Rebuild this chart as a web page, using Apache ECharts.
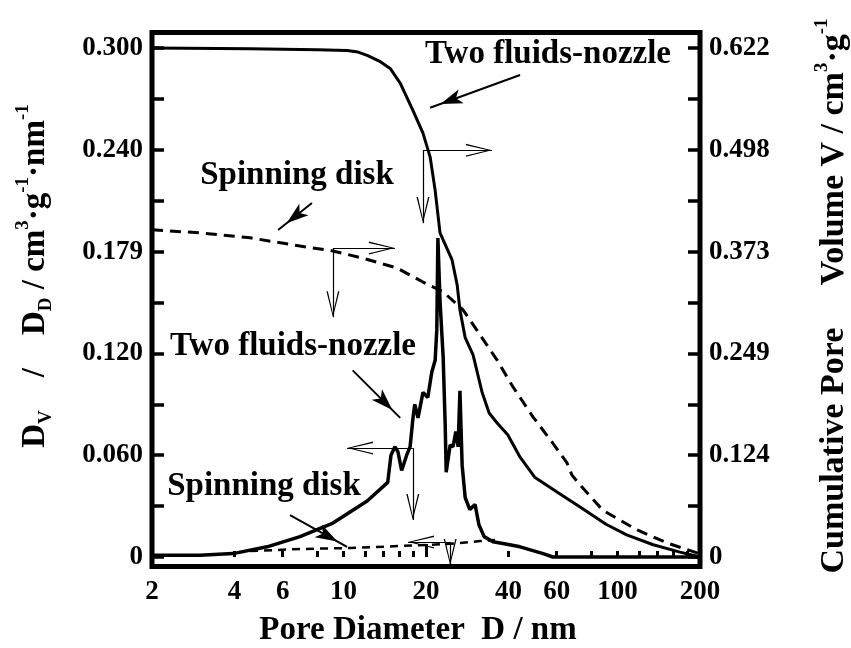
<!DOCTYPE html>
<html>
<head>
<meta charset="utf-8">
<script src="https://cdn.jsdelivr.net/npm/echarts@6/dist/echarts.min.js"></script>
<style>
  html, body { margin: 0; padding: 0; background: #fff; }
  #chart { width: 851px; height: 648px; }
</style>
</head>
<body>
<div id="chart"></div>
<script>
// pore diameter (nm) and cumulative pore volume (cm3/g), right axis
var nozzleCumD = [2, 4.56, 8.0, 10.3, 11.3, 12.2, 13.5, 14.8, 16.1, 17.9, 19.5, 20.7, 21.6, 22.5, 24.9, 26.0, 26.6, 27.8, 29.7, 32.0, 34.0, 36.3, 39.8, 44.1, 50.0, 61.7, 73.0, 90.8, 108, 135, 169, 195, 200];
var nozzleCumV = [0.622, 0.621, 0.620, 0.619, 0.617, 0.613, 0.606, 0.597, 0.579, 0.546, 0.518, 0.489, 0.448, 0.396, 0.363, 0.332, 0.302, 0.268, 0.247, 0.202, 0.176, 0.164, 0.149, 0.122, 0.097, 0.077, 0.061, 0.040, 0.027, 0.015, 0.006, 0.001, 0.000];

var diskCumD = [2, 2.99, 4.56, 6.94, 9.15, 11.8, 15.7, 19.5, 23.1, 27.3, 30.7, 34.3, 36.3, 41.5, 49.2, 58.1, 65.4, 68.2, 73.0, 88.5, 118, 152, 195, 200];
var diskCumV = [0.400, 0.396, 0.390, 0.380, 0.374, 0.365, 0.353, 0.336, 0.324, 0.302, 0.277, 0.253, 0.241, 0.208, 0.171, 0.139, 0.115, 0.100, 0.088, 0.057, 0.033, 0.017, 0.005, 0.004];

// pore size distribution Dv/Dd (cm3/g/nm), left axis
var nozzleDistD = [2, 2.99, 3.95, 5.26, 6.94, 9.15, 12.2, 14.5, 14.9, 15.4, 15.8, 16.3, 17.0, 17.5, 17.9, 18.2, 18.7, 19.0, 19.5, 20.3, 21.0, 21.6, 21.9, 22.1, 22.5, 23.1, 23.5, 23.7, 24.1, 24.5, 25.1, 25.7, 26.2, 26.6, 27.1, 27.8, 28.9, 30.2, 31.2, 32.6, 35.1, 38.2, 44.1, 53.5, 58.1, 86.3, 200];
var nozzleDistV = [0.001, 0.001, 0.002, 0.006, 0.012, 0.020, 0.033, 0.044, 0.060, 0.065, 0.062, 0.051, 0.060, 0.065, 0.081, 0.090, 0.082, 0.082, 0.097, 0.094, 0.109, 0.116, 0.134, 0.188, 0.151, 0.118, 0.078, 0.050, 0.050, 0.066, 0.065, 0.074, 0.065, 0.098, 0.054, 0.035, 0.028, 0.031, 0.019, 0.012, 0.009, 0.008, 0.006, 0.002, 0.000, 0.000, 0.000];

var diskDistD = [4.56, 6.94, 10.6, 16.1, 20.7, 26.6, 31.5, 35.7];
var diskDistV = [0.0035, 0.0047, 0.0053, 0.0065, 0.0071, 0.0082, 0.0094, 0.010];

// axis ticks
var xLabelValues = [2, 4, 6, 10, 20, 40, 60, 100, 200];
var xTickValues = [4, 6, 8, 10, 12, 14, 16, 18, 40, 60, 80, 100, 120, 140, 160, 180];
var xLongTicks = [20];
var leftLabelValues = [0, 0.06, 0.12, 0.18, 0.24, 0.30];
var leftLabels = ['0', '0.060', '0.120', '0.179', '0.240', '0.300'];
var rightLabels = ['0', '0.124', '0.249', '0.373', '0.498', '0.622'];
var scaleK = 0.622 / 0.300;   // right axis / left axis

// annotation arrows [from, to]; pointers and L-brackets (corner, end)
var pointersRight = [[[44.1, 0.589], [20.7, 0.549]], [[7.67, 0.4325], [5.77, 0.3995]]];
var pointersLeft = [[[10.8, 0.110], [16.1, 0.082]], [[6.38, 0.0247], [10.3, 0.0059]]];
var bracketsRight = [[[19.5, 0.497], [34.8, 0.497]], [[19.5, 0.497], [19.5, 0.408]],
                     [[9.15, 0.3775], [15.4, 0.3775]], [[9.15, 0.3775], [9.15, 0.293]]];
var bracketsLeft = [[[17.9, 0.0642], [10.3, 0.0642]], [[17.9, 0.0642], [17.9, 0.0218]],
                    [[24.5, 0.0088], [17.2, 0.0088]], [[24.5, 0.0088], [24.5, -0.0047]]];

var FONT = '"Liberation Serif", "Times New Roman", serif';
var OPEN_HEAD = 'path://M0,26 L6.5,0 L13,26 L11.6,26 L6.5,4 L1.4,26 Z';

var yMin = -0.0056, yMax = 0.30913;

function pairs(xs, ys) { return xs.map(function (x, i) { return [x, ys[i]]; }); }

function pointer(a) {
  return [{ coord: a[0], symbol: 'none' },
          { coord: a[1], symbol: 'arrow', symbolSize: [11, 22], symbolOffset: [0, '50%'] }];
}
function bracket(a) {
  return [{ coord: a[0], symbol: 'none', lineStyle: { width: 1.2 } },
          { coord: a[1], symbol: OPEN_HEAD, symbolSize: [13, 26], symbolOffset: [0, '50%'] }];
}
function arrowsLine(ptrs, brs) {
  return {
    silent: true, animation: false, symbol: ['none', 'none'],
    label: { show: false },
    lineStyle: { color: '#000', width: 2, type: 'solid' },
    emphasis: { disabled: true },
    data: ptrs.map(pointer).concat(brs.map(bracket))
  };
}

var tickFont = { fontFamily: FONT, fontSize: 27, fontWeight: 'bold', color: '#000' };

var chart = echarts.init(document.getElementById('chart'));

var option = {
  backgroundColor: '#fff',
  animation: false,
  grid: { left: 152, right: 151, top: 32.5, bottom: 81.5, show: true, borderColor: '#000', borderWidth: 5 },
  xAxis: [{
    type: 'log', logBase: 10, min: 2, max: 200,
    axisLine: { show: false },
    axisTick: { inside: true, length: 6, lineStyle: { color: '#000', width: 3 }, customValues: xTickValues },
    axisLabel: Object.assign({ margin: 12, customValues: xLabelValues,
      formatter: function (v) { return String(Math.round(v)); } }, tickFont),
    splitLine: { show: false }
  }, {
    type: 'log', logBase: 10, min: 2, max: 200, position: 'bottom',
    axisLine: { show: false },
    axisTick: { inside: true, length: 13, lineStyle: { color: '#000', width: 3 }, customValues: xLongTicks },
    axisLabel: { show: false },
    splitLine: { show: false }
  }],
  yAxis: [{
    type: 'value', min: yMin, max: yMax, position: 'left',
    axisLine: { show: false },
    axisTick: { inside: true, length: 12, lineStyle: { color: '#000', width: 3.5 },
      customValues: [0, 0.03, 0.06, 0.09, 0.12, 0.15, 0.18, 0.21, 0.24, 0.27, 0.30] },
    axisLabel: Object.assign({ margin: 9, customValues: leftLabelValues,
      formatter: function (v) { return leftLabels[Math.round(v / 0.06)]; } }, tickFont),
    splitLine: { show: false }
  }, {
    type: 'value', min: yMin * scaleK, max: yMax * scaleK, position: 'right',
    axisLine: { show: false },
    axisTick: { inside: true, length: 12, lineStyle: { color: '#000', width: 3.5 },
      customValues: [0, 1, 2, 3, 4, 5, 6, 7, 8, 9, 10].map(function (i) { return i * 0.03 * scaleK; }) },
    axisLabel: Object.assign({ margin: 9,
      customValues: leftLabelValues.map(function (v) { return v * scaleK; }),
      formatter: function (v) { return rightLabels[Math.round(v / (0.06 * scaleK))]; } }, tickFont),
    splitLine: { show: false }
  }],
  series: [{
    name: 'Two fluids-nozzle cumulative', type: 'line', yAxisIndex: 1,
    data: pairs(nozzleCumD, nozzleCumV), showSymbol: false, symbol: 'none',
    lineStyle: { color: '#000', width: 3 },
    markLine: arrowsLine(pointersRight, bracketsRight)
  }, {
    name: 'Spinning disk cumulative', type: 'line', yAxisIndex: 1,
    data: pairs(diskCumD, diskCumV), showSymbol: false, symbol: 'none',
    lineStyle: { color: '#000', width: 3, type: [11, 7] }
  }, {
    name: 'Two fluids-nozzle distribution', type: 'line', yAxisIndex: 0,
    data: pairs(nozzleDistD, nozzleDistV), showSymbol: false, symbol: 'none',
    lineStyle: { color: '#000', width: 3.5 },
    markLine: arrowsLine(pointersLeft, bracketsLeft)
  }, {
    name: 'Spinning disk distribution', type: 'line', yAxisIndex: 0,
    data: pairs(diskDistD, diskDistV), showSymbol: false, symbol: 'none',
    lineStyle: { color: '#000', width: 2.5, type: [8, 6] }
  }],
  graphic: [
    { type: 'text', x: 548, y: 54, silent: true,
      style: { text: 'Two fluids-nozzle', fill: '#000', font: 'bold 33px ' + FONT, align: 'center', verticalAlign: 'middle' } },
    { type: 'text', x: 297, y: 175, silent: true,
      style: { text: 'Spinning disk', fill: '#000', font: 'bold 33px ' + FONT, align: 'center', verticalAlign: 'middle' } },
    { type: 'text', x: 293, y: 346, silent: true,
      style: { text: 'Two fluids-nozzle', fill: '#000', font: 'bold 33px ' + FONT, align: 'center', verticalAlign: 'middle' } },
    { type: 'text', x: 264, y: 486, silent: true,
      style: { text: 'Spinning disk', fill: '#000', font: 'bold 33px ' + FONT, align: 'center', verticalAlign: 'middle' } },
    { type: 'text', x: 418, y: 630, silent: true,
      style: { text: 'Pore Diameter  D / nm', fill: '#000', font: 'bold 33px ' + FONT, align: 'center', verticalAlign: 'middle' } },
    { type: 'text', x: 35, y: 276, rotation: Math.PI / 2, silent: true,
      style: {
        text: '{b|D}{sub|V}{b|    /    D}{sub|D}{b| / cm}{sup|3}{b|·g}{sup|-1}{b|·nm}{sup|-1}',
        align: 'center', verticalAlign: 'middle', fill: '#000',
        rich: {
          b: { fontFamily: FONT, fontSize: 33, fontWeight: 'bold', lineHeight: 42, fill: '#000' },
          sub: { fontFamily: FONT, fontSize: 19, fontWeight: 'bold', lineHeight: 19, verticalAlign: 'bottom', fill: '#000' },
          sup: { fontFamily: FONT, fontSize: 19, fontWeight: 'bold', lineHeight: 19, verticalAlign: 'top', fill: '#000' }
        }
      } },
    { type: 'text', x: 834, y: 296, rotation: Math.PI / 2, silent: true,
      style: {
        text: '{b|Cumulative Pore     Volume V / cm}{sup|3}{b|·g}{sup|-1}',
        align: 'center', verticalAlign: 'middle', fill: '#000',
        rich: {
          b: { fontFamily: FONT, fontSize: 34, fontWeight: 'bold', lineHeight: 42, fill: '#000' },
          sup: { fontFamily: FONT, fontSize: 19, fontWeight: 'bold', lineHeight: 19, verticalAlign: 'top', fill: '#000' }
        }
      } }
  ]
};

chart.setOption(option);
</script>
</body>
</html>
